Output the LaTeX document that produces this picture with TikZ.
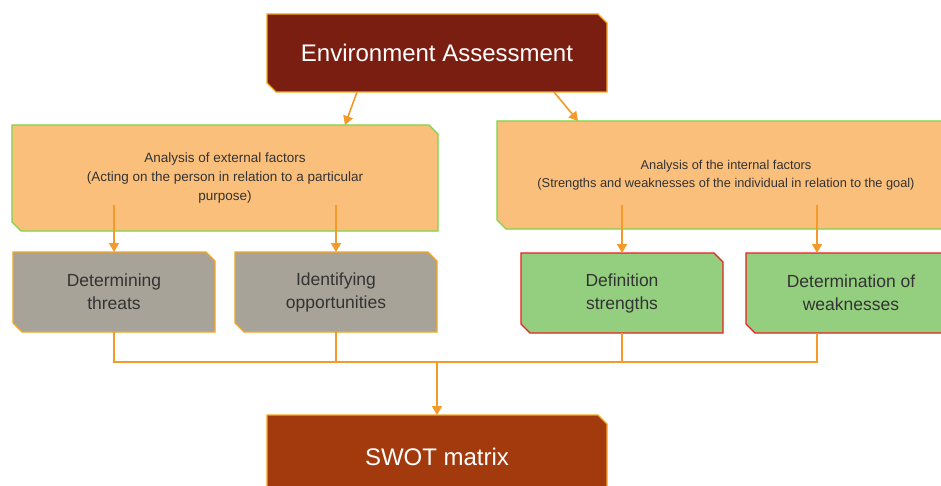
\documentclass[tikz,border=0pt]{standalone}
\usepackage{fontspec}
\setmainfont{Liberation Sans}
\usetikzlibrary{shapes.misc,arrows.meta,calc}
\definecolor{envred}{HTML}{7B1E12}
\definecolor{swotred}{HTML}{A23A0E}
\definecolor{anafill}{HTML}{FBBF7C}
\definecolor{anaedge}{HTML}{7ED348}
\definecolor{grayfill}{HTML}{A8A398}
\definecolor{greenfill}{HTML}{93CF7E}
\definecolor{rededge}{HTML}{E82020}
\definecolor{oredge}{HTML}{F5A623}
\definecolor{lineor}{HTML}{F39A2A}
\definecolor{txtgray}{HTML}{333333}
\begin{document}
\begin{tikzpicture}[x=1pt,y=1pt,
  box/.style={chamfered rectangle, chamfered rectangle corners={north east,south west},
    chamfered rectangle xsep=4.5pt, chamfered rectangle ysep=4.5pt,
    line width=1.2pt, align=center, inner sep=0pt, outer sep=0pt},
  darkbox/.style={box, fill=#1, draw=oredge, text=white, font=\fontsize{24}{28}\selectfont},
  anabox/.style={box, fill=anafill, draw=anaedge, text=txtgray},
  smallbox/.style={box, fill=#1, minimum width=202pt, minimum height=80pt, text=txtgray,
    font=\fontsize{17.5}{23}\selectfont},
  arr/.style={draw=lineor, line width=1.6pt, -{Triangle[width=10pt,length=9pt]}},
  conn/.style={draw=lineor, line width=1.2pt}]
\fill[white] (0,0) rectangle (941,-486);
\useasboundingbox (0,0) rectangle (941,-486);

\node[darkbox=envred, minimum width=340pt, minimum height=78pt] (env) at (437,-53) {Environment Assessment};

\node[anabox, minimum width=426pt, minimum height=106pt, font=\fontsize{13.5}{19}\selectfont] (leftA) at (225,-178)
  {Analysis of external factors\\(Acting on the person in relation to a particular\\purpose)};
\node[anabox, minimum width=458pt, minimum height=108pt, font=\fontsize{12.8}{18}\selectfont] (rightA) at (726,-175)
  {Analysis of the internal factors\\(Strengths and weaknesses of the individual in relation to the goal)};

\node[smallbox=grayfill, draw=oredge] (threats) at (114,-292) {Determining\\threats};
\node[smallbox=grayfill, draw=oredge] (opps) at (336,-292) {Identifying\\opportunities};
\node[smallbox=greenfill, draw=rededge] (strengths) at (622,-293) {Definition\\strengths};
\node[smallbox=greenfill, draw=rededge, minimum width=210pt] (weak) at (851,-293) {Determination of\\weaknesses};

\node[darkbox=swotred, minimum width=340pt, minimum height=84pt] (swot) at (437,-457) {SWOT matrix};

% top arrows
\draw[arr] ([xshift=-80pt]env.south) -- ([xshift=120pt]leftA.north);
\draw[arr] ([xshift=117pt]env.south) -- ([xshift=-148pt]rightA.north);

% analysis to small boxes
\coordinate (a1) at ($(leftA.south -| threats.north)+(0,26)$);
\coordinate (a2) at ($(leftA.south -| opps.north)+(0,26)$);
\coordinate (a3) at ($(rightA.south -| strengths.north)+(0,24)$);
\coordinate (a4) at ($(rightA.south -| weak.north)+(-34,24)$);
\draw[arr] (a1) -- (threats.north);
\draw[arr] (a2) -- (opps.north);
\draw[arr] (a3) -- (strengths.north);
\draw[arr] (a4) -- (a4 |- weak.north);

% bus
\coordinate (bl) at ($(threats.south)+(0,-30)$);
\coordinate (br) at (bl -| a4);
\draw[conn] (threats.south) -- (bl) -- (br) -- (a4 |- weak.south);
\draw[conn] (opps.south) -- (opps.south |- bl);
\draw[conn] (strengths.south) -- (strengths.south |- bl);
\draw[arr] (bl -| swot.north) -- (swot.north);
\end{tikzpicture}
\end{document}
